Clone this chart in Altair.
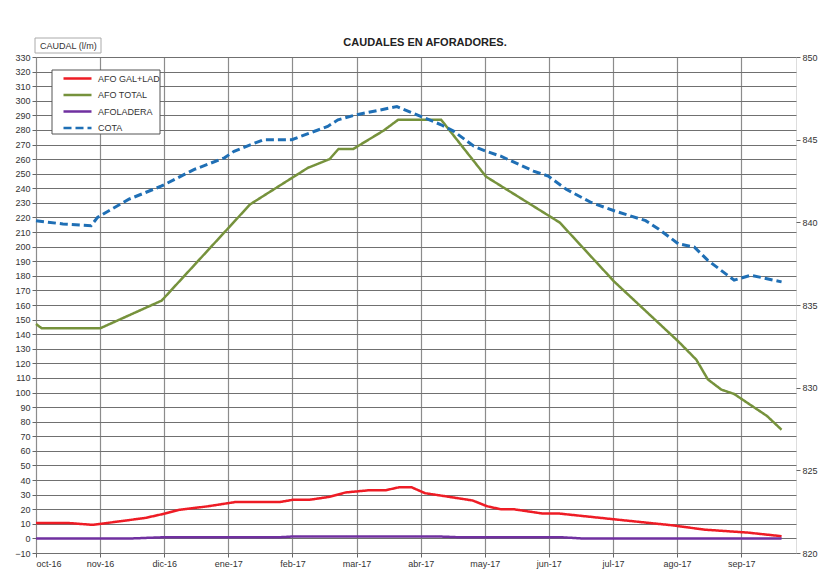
import altair as alt
import pandas as pd

# ---- data ----
meses = ["oct-16", "nov-16", "dic-16", "ene-17", "feb-17", "mar-17",
         "abr-17", "may-17", "jun-17", "jul-17", "ago-17", "sep-17"]

series_names = ["AFO GAL+LAD", "AFO TOTAL", "AFOLADERA", "COTA"]
series_colors = ["#ee1c25", "#76923c", "#7030a0", "#1f6fb5"]
series_dashes = [[1, 0], [1, 0], [1, 0], [8, 4]]

# x positions in months since oct-16
total_x = [0, 0.09, 1.0, 1.96, 3.34, 4.24, 4.58, 4.72, 4.95, 5.42, 5.65, 6.32, 7.02,
           8.17, 9.02, 10.02, 10.3, 10.48, 10.69, 10.89, 11.4, 11.63]
total_y = [147, 144, 144, 163, 229, 254, 260, 267, 267, 279.5, 287, 287, 248,
           216.5, 176, 135, 122.5, 109, 102, 99, 84, 74.5]

gal_x = [0, 0.52, 0.88, 1.01, 1.70, 2.01, 2.22, 2.68, 3.12, 3.81, 4.01, 4.27, 4.58,
         4.83, 5.19, 5.45, 5.66, 5.86, 6.07, 6.37, 6.81, 7.04, 7.25, 7.45, 7.91, 8.17,
         9.04, 9.92, 10.43, 11.1, 11.63]
gal_y = [10.5, 10.5, 9.3, 10, 14, 17, 19.5, 22, 25, 25, 26.5, 26.5, 28.5,
         31.5, 33, 33, 35, 35, 31, 29, 26, 22, 20, 20, 17, 17,
         13, 9, 6, 4, 1.5]

lad_x = [0, 1.5, 2.0, 3.8, 4.0, 6.3, 6.6, 8.2, 8.5, 11.63]
lad_y = [0, 0, 0.8, 0.8, 1.3, 1.3, 0.8, 0.8, 0, 0]

cota_x = [0, 0.42, 0.86, 0.96, 1.45, 1.96, 2.47, 2.94, 3.09, 3.55, 3.99, 4.55, 4.71,
          4.99, 5.63, 6.01, 6.32, 6.52, 6.83, 7.02, 7.25, 7.76, 7.99, 8.27, 8.66, 9.02,
          9.51, 9.71, 10.02, 10.27, 10.48, 10.89, 11.15, 11.63]
cota_y = [840.1, 839.9, 839.8, 840.3, 841.4, 842.2, 843.2, 843.9, 844.3, 845.0, 845.0,
          845.8, 846.2, 846.5, 847.0, 846.4, 845.9, 845.5, 844.6, 844.3, 844.0, 843.1,
          842.8, 842.0, 841.2, 840.7, 840.1, 839.6, 838.7, 838.5, 837.7, 836.5, 836.8,
          836.4]

left_ticks = list(range(-10, 331, 10))
right_ticks = [820, 825, 830, 835, 840, 845, 850]

# ---- frames ----
df_left = pd.concat([
    pd.DataFrame({"mes": gal_x, "valor": gal_y, "serie": "AFO GAL+LAD"}),
    pd.DataFrame({"mes": total_x, "valor": total_y, "serie": "AFO TOTAL"}),
    pd.DataFrame({"mes": lad_x, "valor": lad_y, "serie": "AFOLADERA"}),
], ignore_index=True)
df_cota = pd.DataFrame({"mes": cota_x, "valor": cota_y, "serie": "COTA"})

W, H = 760, 496
XMAX = 11.855
FONT = "Liberation Sans"
TEAL = "#1f6e5e"

label_expr = "[" + ",".join(f"'{m}'" for m in meses) + "][datum.value]"

x_enc = alt.X(
    "mes:Q",
    scale=alt.Scale(domain=[0, XMAX], nice=False, zero=False),
    axis=alt.Axis(values=list(range(12)), labelExpr=label_expr, title=None,
                  grid=True, gridColor="#8c8c8c", gridWidth=1.2, tickSize=4,
                  tickColor="#666", labelFontSize=9, labelColor="#333",
                  labelPadding=2, domain=False, labelFont=FONT),
)

legend_def = alt.Legend(
    title=None, orient="none", legendX=16, legendY=13,
    symbolType="M-2,0H2", symbolSize=196, symbolStrokeWidth=2.5, symbolOffset=17,
    labelFontSize=9, labelColor="#333", labelFont=FONT, labelOffset=12,
    padding=0, rowPadding=2.5,
)
color_enc = alt.Color("serie:N", scale=alt.Scale(domain=series_names, range=series_colors),
                      legend=legend_def)
dash_enc = alt.StrokeDash("serie:N", scale=alt.Scale(domain=series_names, range=series_dashes),
                          legend=legend_def)

left = alt.Chart(df_left).mark_line(strokeWidth=2.5).encode(
    x=x_enc,
    y=alt.Y("valor:Q", scale=alt.Scale(domain=[-10, 330], nice=False, zero=False),
            axis=alt.Axis(values=left_ticks, title=None, grid=True, gridColor="#707070",
                          gridWidth=1, tickSize=4, tickColor="#666", labelFontSize=9,
                          labelColor="#333", labelFont=FONT, domain=False, labelPadding=2)),
    color=color_enc,
    strokeDash=dash_enc,
)

right = alt.Chart(df_cota).mark_line(strokeWidth=3).encode(
    x=x_enc,
    y=alt.Y("valor:Q", scale=alt.Scale(domain=[820, 850], nice=False, zero=False),
            axis=alt.Axis(orient="right", values=right_ticks, title=None, grid=False,
                          tickSize=4, tickColor="#666", labelFontSize=9,
                          labelColor="#333", labelFont=FONT, domain=False, labelPadding=2)),
    color=color_enc,
    strokeDash=dash_enc,
)

deco_df = pd.DataFrame({"t": ["CAUDAL  (l/m)"]})
ybox = alt.Chart(deco_df).mark_rect(fill="white", stroke="#aaaaaa", strokeWidth=1).encode(
    x=alt.value(-1), x2=alt.value(65), y=alt.value(-19), y2=alt.value(-4)
)
ytext = alt.Chart(deco_df).mark_text(align="left", baseline="middle", fontSize=9,
                                     font=FONT, color="#333").encode(
    x=alt.value(4), y=alt.value(-11), text="t:N"
)
legbox = alt.Chart(deco_df).mark_rect(fill="white", stroke="#555555", strokeWidth=1).encode(
    x=alt.value(16), x2=alt.value(124), y=alt.value(13), y2=alt.value(77)
)

chart = alt.layer(left, right, legbox, ybox, ytext).resolve_scale(y="independent").properties(
    width=W, height=H,
    autosize=alt.AutoSizeParams(type="none"),
    padding={"left": 28, "top": 49, "right": 22, "bottom": 16},
    title=alt.TitleParams("CAUDALES EN AFORADORES.", fontSize=11, fontWeight="bold",
                          font=FONT, color="#222", offset=-10, anchor="middle", dx=9),
).configure_view(stroke=TEAL, strokeWidth=2).configure(font=FONT, background="white")

chart.save("out.html", embed_options={"renderer": "svg", "actions": False})
